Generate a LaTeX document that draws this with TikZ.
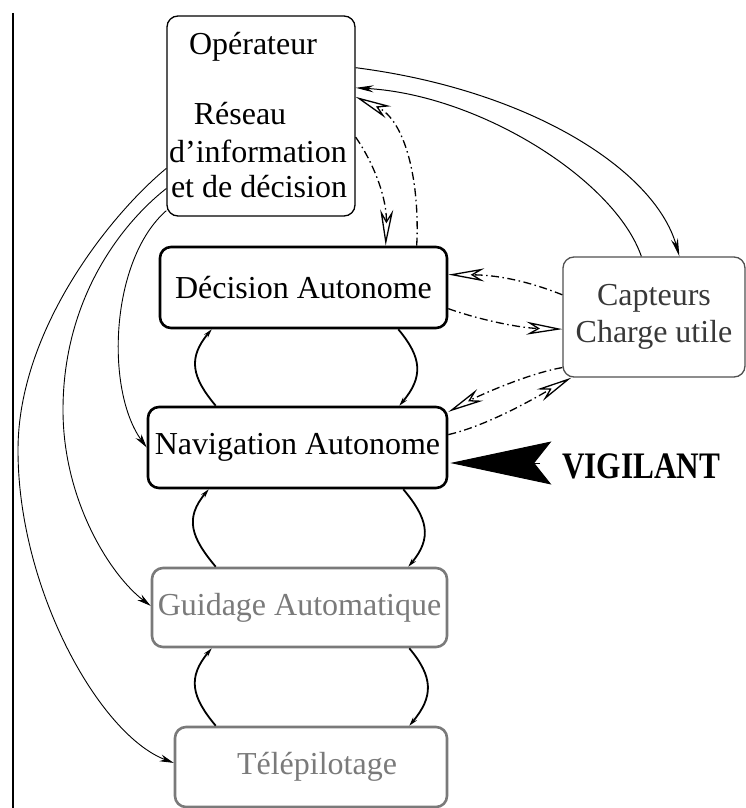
\documentclass[tikz,border=0pt]{standalone}
\usepackage{fontspec}
\setmainfont{Liberation Serif}
\usetikzlibrary{arrows.meta,calc}
\definecolor{midgray}{HTML}{7A7A7A}
\definecolor{capgray}{HTML}{505050}
\definecolor{captext}{HTML}{383838}
\begin{document}
\begin{tikzpicture}[x=1pt,y=1pt,
  box/.style={draw, rounded corners=11pt, inner sep=0pt, align=center,
    font=\fontsize{32}{37}\selectfont},
  txt/.style={inner sep=0pt, font=\fontsize{32}{37}\selectfont},
  thinbox/.style={box, line width=1.3pt},
  thickbox/.style={box, line width=2.6pt},
  graybox/.style={box, line width=2.6pt, draw=midgray, text=midgray},
  capbox/.style={box, line width=1.3pt, draw=capgray, text=captext},
  link/.style={line width=0.9pt, -{Stealth[length=14pt,width=7pt]}},
  toplink/.style={line width=1pt, -{Stealth[length=18pt,width=7pt]}},
  loop/.style={line width=1.8pt, looseness=1.25, -{Stealth[length=9pt,width=5pt]}},
  dashdot/.style={line width=1.3pt, dash pattern=on 8pt off 3.5pt on 1.5pt off 3.5pt,
    -{Stealth[open, length=36pt, width=13pt, inset=11pt, line width=1.3pt]}},
]
\useasboundingbox (0,0) rectangle (746,-808);

% left rule
\coordinate (ruletop) at (13,-13);
\coordinate (rulebot) at (13,-808);
\draw[line width=1.8pt] (ruletop) -- (rulebot);

% boxes
\node[thinbox, minimum width=188pt, minimum height=200pt] (op) at (261,-116) {};
\node[txt, anchor=base] (t1) at (253,-55) {Opérateur};
\node[txt, anchor=base] (t2) at (240,-124) {Réseau};
\node[txt, anchor=base] (t3) at (258,-162) {d’information};
\node[txt, anchor=base] (t4) at (259,-197) {et de décision};

\node[thickbox, minimum width=287pt, minimum height=81pt] (dec) at (303.5,-287.5) {Décision Autonome};
\node[thickbox, minimum width=299pt, minimum height=81pt] (nav) at (297.5,-447.5) {Navigation Autonome};
\node[graybox, minimum width=295pt, minimum height=79pt] (gui) at (299.5,-607.5) {Guidage Automatique};
\node[graybox, minimum width=272pt, minimum height=80pt] (tel) at (311,-767) {\hspace*{12pt}Télépilotage};
\node[capbox, minimum width=182pt, minimum height=120pt] (cap) at (654,-317) {Capteurs\\Charge utile};

\node[txt, anchor=base west, font=\fontsize{34}{37}\selectfont\bfseries] (vig) at (562,-478) {\scalebox{0.92}[1.1]{VIGILANT}};

% big arrow
\coordinate (vtail) at (540,-463);
\draw[line width=1pt, -{Stealth[length=101pt,width=43pt,inset=17pt]}] (vtail) -- ([yshift=-15.5pt,xshift=2pt]nav.east);

% operator to lower levels
\draw[link] ($(op.north west)!0.76!(op.south west)$) .. controls (110,-215) and (18,-330) .. (18,-450)
   .. controls (18,-590) and (100,-735) .. ($(tel.north west)!0.45!(tel.south west)$);
\draw[link] ($(op.north west)!0.86!(op.south west)$) .. controls (120,-225) and (63,-300) .. (63,-410)
   .. controls (63,-500) and (110,-575) .. ($(gui.north west)!0.48!(gui.south west)$);
\draw[link] ($(op.north west)!0.97!(op.south west)$) .. controls (110,-260) and (105,-390) .. ($(nav.north west)!0.5!(nav.south west)$);

% operator <-> sensors
\draw[toplink] ($(op.north east)!0.26!(op.south east)$) .. controls (530,-90) and (655,-170) .. ([xshift=117pt]cap.north west);
\draw[toplink] ([xshift=79pt]cap.north west) .. controls (615,-180) and (480,-95) .. ($(op.north east)!0.36!(op.south east)$);

% operator <-> decision (dash-dot)
\draw[dashdot] ($(op.north east)!0.605!(op.south east)$) .. controls (375,-165) and (387,-200) .. ([xshift=227pt]dec.north west);
\draw[dashdot] ([xshift=258pt]dec.north west) .. controls (420,-180) and (405,-120) .. ($(op.north east)!0.405!(op.south east)$);

% decision <-> sensors
\draw[dashdot] ($(cap.north west)!0.317!(cap.south west)$) .. controls (530,-282) and (500,-275) .. ($(dec.north east)!0.346!(dec.south east)$);
\draw[dashdot] ($(dec.north east)!0.753!(dec.south east)$) .. controls (480,-320) and (520,-328) .. ($(cap.north west)!0.6!(cap.south west)$);

% navigation <-> sensors
\draw[dashdot] ($(cap.north west)!0.917!(cap.south west)$) .. controls (530,-373) and (480,-395) .. ($(nav.north east)!0.074!(nav.south east)$);
\draw[dashdot] ($(nav.north east)!0.346!(nav.south east)$) .. controls (490,-425) and (540,-395) .. ([xshift=9pt]cap.south west);

% loops between levels
\draw[loop] ([xshift=69pt]nav.north west) to[out=130,in=-130] ([xshift=53pt]dec.south west);
\draw[loop] ([xshift=-50pt]dec.south east) to[out=-50,in=50] ([xshift=-49pt]nav.north east);
\draw[loop] ([xshift=65pt]gui.north west) to[out=130,in=-130] ([xshift=62pt]nav.south west);
\draw[loop] ([xshift=-45pt]nav.south east) to[out=-50,in=50] ([xshift=-40pt]gui.north east);
\draw[loop] ([xshift=42pt]tel.north west) to[out=130,in=-130] ([xshift=61pt]gui.south west);
\draw[loop] ([xshift=-39pt]gui.south east) to[out=-50,in=50] ([xshift=-39pt]tel.north east);
\end{tikzpicture}
\end{document}
